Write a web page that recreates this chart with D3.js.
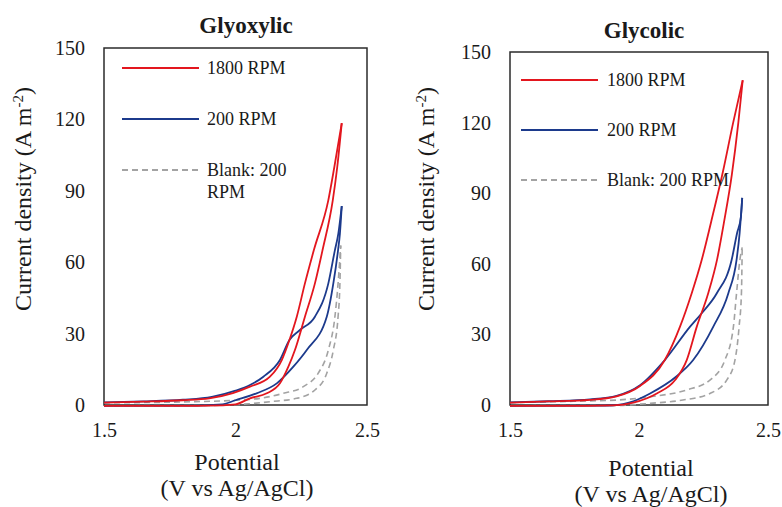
<!DOCTYPE html>
<html>
<head>
<meta charset="utf-8">
<script src="https://cdn.jsdelivr.net/npm/d3@7"></script>
<style>
  body { margin: 0; background: #fff; }
</style>
</head>
<body>
<svg id="chart" width="782" height="507"></svg>
<script>
//Tick values and labels
var potentialTicks = [1.5, 2, 2.5];
var currentTicks = [0, 30, 60, 90, 120, 150];
var seriesNames = ["1800 RPM", "200 RPM", "Blank: 200 RPM"];
var panelTitles = ["Glyoxylic", "Glycolic"];

//Glyoxylic - [potential V, current density A m-2], forward (lower) and reverse (upper) scans
var glyoxylic1800Fwd = [[1.5,-0.4],[1.7,-0.4],[1.9,-0.3],[2.0,0.3],[2.055,2.8],[2.119,4.9],[2.169,9.1],[2.201,16.1],[2.226,23.1],[2.264,37.1],[2.302,51.1],[2.331,65.1],[2.37,86.1],[2.387,100.1],[2.404,118.4]];
var glyoxylic1800Rev = [[1.5,1.0],[1.65,1.4],[1.8,2.0],[1.9,2.8],[1.99,5],[2.055,7.7],[2.131,11.9],[2.176,18.9],[2.205,27.3],[2.233,37.1],[2.264,51.1],[2.298,65.1],[2.353,86.1],[2.376,100.1],[2.404,118.4]];
var glyoxylic200Fwd = [[1.5,-0.4],[1.8,-0.3],[1.95,0.3],[2.0,2],[2.08,4.9],[2.157,9.1],[2.22,16.1],[2.271,23.1],[2.347,37.1],[2.372,51.1],[2.39,65.1],[2.397,72],[2.404,83.6]];
var glyoxylic200Rev = [[1.5,1.1],[1.65,1.5],[1.8,2.2],[1.91,3.4],[2.0,6],[2.055,8.4],[2.106,11.9],[2.169,18.9],[2.205,27.3],[2.245,31.5],[2.302,37.1],[2.353,51.1],[2.378,65.1],[2.391,72],[2.404,83.6]];
var glyoxylicBlankFwd = [[1.5,-0.3],[1.9,-0.2],[2.05,0.5],[2.131,1.4],[2.233,2.8],[2.302,6.3],[2.347,13.3],[2.372,23.1],[2.39,37.1],[2.397,51],[2.40,67]];
var glyoxylicBlankRev = [[1.5,0.9],[1.8,1.3],[2.0,2],[2.093,2.8],[2.182,4.9],[2.258,7.7],[2.314,13.3],[2.353,23.1],[2.378,37.1],[2.39,51],[2.40,67]];

//Glycolic
var glycolic1800Fwd = [[1.5,-0.4],[1.8,-0.4],[1.9,-0.2],[1.978,1.0],[2.069,4.9],[2.14,10.6],[2.185,19.1],[2.224,33.3],[2.268,47.4],[2.303,62],[2.33,78],[2.36,98],[2.385,120],[2.402,138]];
var glycolic1800Rev = [[1.5,1.0],[1.65,1.5],[1.81,2.2],[1.913,3.7],[2.004,8.1],[2.10,19.1],[2.159,33.3],[2.204,47.4],[2.243,61.6],[2.28,78],[2.325,99],[2.365,120],[2.402,138]];
var glycolic200Fwd = [[1.5,-0.4],[1.8,-0.3],[1.9,-0.1],[1.978,1.6],[2.043,4.9],[2.146,12.2],[2.21,19.1],[2.288,33.3],[2.346,47.4],[2.378,61.6],[2.39,73],[2.395,80],[2.40,88]];
var glycolic200Rev = [[1.5,1.1],[1.65,1.6],[1.81,2.4],[1.913,3.9],[2.004,8.4],[2.10,19.1],[2.198,33.3],[2.243,39],[2.301,47.4],[2.359,61.6],[2.38,73],[2.395,80],[2.40,88]];
var glycolicBlankFwd = [[1.5,-0.3],[1.9,-0.2],[2.043,0.7],[2.17,2.1],[2.275,4.9],[2.34,10.6],[2.372,19.1],[2.388,33.3],[2.397,47.4],[2.40,67]];
var glycolicBlankRev = [[1.5,1.0],[1.75,1.6],[1.913,2.1],[2.043,3.5],[2.185,6.4],[2.275,10.6],[2.333,19.1],[2.366,33.3],[2.378,47.4],[2.391,61.6],[2.40,67]];

//Line styles for each series
var colors = ["#e3161e", "#1c3a8c", "#a3a3a3"];
var dashes = [null, null, "6,4"];
var serif = "'Liberation Serif', 'Times New Roman', Tinos, 'DejaVu Serif', serif";

var svg = d3.select("#chart");

var panels = [
    {
        title: panelTitles[0], titleX: 246, titleY: 33,
        box: { left: 104, right: 367, top: 48, bottom: 405 },
        yLabelX: 23, xLabelX: 237, xLabelY: [470, 496],
        legend: { x1: 122, x2: 199, ys: [68, 119, 170], tx: 207, wrap: true },
        series: [[glyoxylic1800Fwd, glyoxylic1800Rev], [glyoxylic200Fwd, glyoxylic200Rev], [glyoxylicBlankFwd, glyoxylicBlankRev]]
    },
    {
        title: panelTitles[1], titleX: 644, titleY: 38,
        box: { left: 510, right: 768, top: 52, bottom: 405 },
        yLabelX: 426, xLabelX: 651, xLabelY: [476, 502],
        legend: { x1: 521, x2: 598, ys: [80, 130, 180], tx: 607, wrap: false },
        series: [[glycolic1800Fwd, glycolic1800Rev], [glycolic200Fwd, glycolic200Rev], [glycolicBlankFwd, glycolicBlankRev]]
    }
];

panels.forEach(p => {
    var b = p.box;
    var g = svg.append("g");

    //Scales
    var xScale = d3.scaleLinear().domain([1.5, 2.5]).range([b.left, b.right]);
    var yScale = d3.scaleLinear().domain([0, 150]).range([b.bottom, b.top]);

    //Axes (no tick marks, just labels)
    var xAxis = g.append("g")
        .attr("transform", `translate(0,${b.bottom})`)
        .call(d3.axisBottom(xScale).tickValues(potentialTicks).tickSize(0).tickPadding(18).tickFormat(d3.format("")));
    var yAxis = g.append("g")
        .attr("transform", `translate(${b.left},0)`)
        .call(d3.axisLeft(yScale).tickValues(currentTicks).tickSize(0).tickPadding(19));
    [xAxis, yAxis].forEach(a => {
        a.attr("font-family", serif).attr("font-size", 20);
        a.select(".domain").remove();
        a.selectAll("text").attr("fill", "#1a1a1a");
    });

    //Plot area box
    g.append("rect")
        .attr("x", b.left).attr("y", b.top)
        .attr("width", b.right - b.left).attr("height", b.bottom - b.top)
        .attr("fill", "none").attr("stroke", "#2b2b2b").attr("stroke-width", 1.5);

    //Curves
    var line = d3.line()
        .x(d => xScale(d[0]))
        .y(d => yScale(d[1]))
        .curve(d3.curveMonotoneX);

    for (var i = p.series.length - 1; i >= 0; i--) {
        p.series[i].forEach(branch => {
            g.append("path")
                .datum(branch)
                .attr("fill", "none")
                .attr("stroke", colors[i])
                .attr("stroke-width", i == 2 ? 1.6 : 1.8)
                .attr("stroke-dasharray", dashes[i])
                .attr("d", line);
        });
    }

    //Legend
    var lg = p.legend;
    seriesNames.forEach((name, i) => {
        g.append("line")
            .attr("x1", lg.x1).attr("x2", lg.x2)
            .attr("y1", lg.ys[i]).attr("y2", lg.ys[i])
            .attr("stroke", colors[i])
            .attr("stroke-width", 1.8)
            .attr("stroke-dasharray", dashes[i]);
        var t = g.append("text")
            .attr("x", lg.tx).attr("y", lg.ys[i])
            .attr("dy", "0.35em")
            .attr("fill", "#1a1a1a")
            .attr("font-family", serif)
            .attr("font-size", 18);
        if (lg.wrap && i == 2) {
            t.append("tspan").attr("x", lg.tx).text("Blank: 200");
            t.append("tspan").attr("x", lg.tx).attr("dy", "1.22em").text("RPM");
        } else {
            t.text(name);
        }
    });

    //Title
    g.append("text")
        .attr("x", p.titleX).attr("y", p.titleY)
        .attr("text-anchor", "middle")
        .attr("font-family", serif)
        .attr("font-size", 23).attr("font-weight", "bold")
        .attr("fill", "#1a1a1a")
        .text(p.title);

    //Y axis label
    var yl = g.append("text")
        .attr("transform", `translate(${p.yLabelX},199) rotate(-90)`)
        .attr("text-anchor", "middle")
        .attr("dy", "0.35em")
        .attr("font-family", serif)
        .attr("font-size", 24)
        .attr("fill", "#1a1a1a");
    yl.append("tspan").text("Current density (A m");
    yl.append("tspan").attr("baseline-shift", "super").attr("font-size", 15).text("-2");
    yl.append("tspan").text(")");

    //X axis label, two lines
    ["Potential", "(V vs Ag/AgCl)"].forEach((s, k) => {
        g.append("text").attr("x", p.xLabelX).attr("y", p.xLabelY[k])
            .attr("text-anchor", "middle")
            .attr("font-family", serif)
            .attr("font-size", 24)
            .attr("fill", "#1a1a1a")
            .text(s);
    });
});
</script>
</body>
</html>
